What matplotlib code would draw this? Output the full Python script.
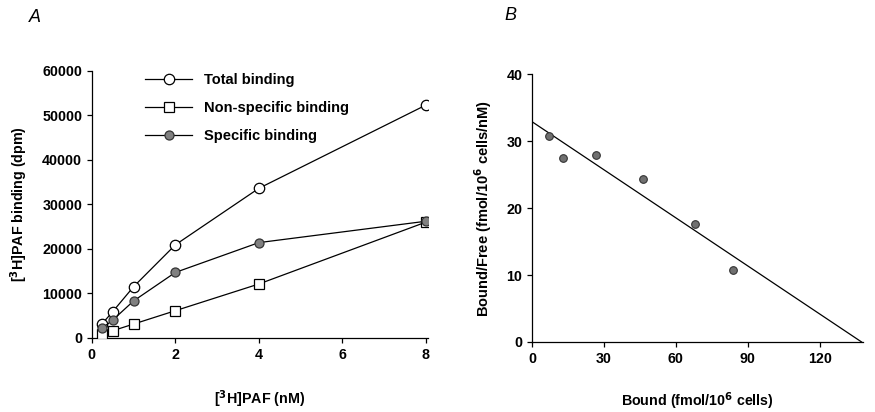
import matplotlib
matplotlib.use('Agg')
import matplotlib.pyplot as plt
import numpy as np

plt.rcParams['font.family'] = ['Liberation Sans', 'DejaVu Sans']
plt.rcParams['font.weight'] = 'bold'

# panel A data
conc = [0.25, 0.5, 1, 2, 4, 8]
total = [3200, 5900, 11500, 20900, 33600, 52300]
nonspecific = [900, 1600, 3100, 6100, 12100, 26000]
specific = [2200, 4000, 8300, 14700, 21400, 26200]

# panel B data (Scatchard)
bound = [7, 13, 26.5, 46.5, 68, 84]
bound_free = [30.8, 27.5, 27.9, 24.4, 17.6, 10.8]
fit_x = [0, 137.5]
fit_y = [32.9, 0]

fig = plt.figure(figsize=(8.75, 4.12), dpi=100)

axA = fig.add_axes([0.105, 0.18, 0.384, 0.648])
axA.plot(conc, total, '-o', color='black', lw=0.9, ms=7.5, mfc='white', mec='black', mew=0.9,
         label='Total binding', zorder=3)
axA.plot(conc, nonspecific, '-s', color='black', lw=0.9, ms=7.5, mfc='white', mec='black', mew=0.9,
         label='Non-specific binding', zorder=3)
axA.plot(conc, specific, '-o', color='black', lw=0.9, ms=6.5, mfc='#808080', mec='#333333', mew=0.9,
         label='Specific binding', zorder=3)
axA.set_xlim(0, 8.05)
axA.set_ylim(0, 60000)
axA.set_xticks([0, 2, 4, 6, 8])
axA.set_yticks(np.arange(0, 60001, 10000))
axA.set_xlabel('[$^3$H]PAF (nM)', fontsize=10.3, fontweight='bold', labelpad=19)
axA.set_ylabel('[$^3$H]PAF binding (dpm)', fontsize=10.3, fontweight='bold', labelpad=9)
axA.legend(loc='upper left', bbox_to_anchor=(0.12, 1.04), frameon=False, fontsize=10.5,
           handlelength=3.2, labelspacing=0.95, handletextpad=0.8)
axA.text(-0.17, 1.2, 'A', transform=axA.transAxes, fontsize=13, fontstyle='italic',
         fontweight='normal', va='center', ha='center')

axB = fig.add_axes([0.608, 0.17, 0.378, 0.65])
axB.plot(fit_x, fit_y, '-', color='black', lw=0.9)
axB.plot(bound, bound_free, 'o', color='#707070', mec='#333333', ms=5.5, mew=0.8)
axB.set_xlim(0, 138)
axB.set_ylim(0, 40)
axB.set_xticks([0, 30, 60, 90, 120])
axB.set_yticks([0, 10, 20, 30, 40])
axB.set_xlabel('Bound (fmol/10$^6$ cells)', fontsize=10.3, fontweight='bold', labelpad=18)
axB.set_ylabel('Bound/Free (fmol/10$^6$ cells/nM)', fontsize=10.5, fontweight='bold', labelpad=9)
axB.text(-0.066, 1.22, 'B', transform=axB.transAxes, fontsize=13, fontstyle='italic',
         fontweight='normal', va='center', ha='center')

for ax in (axA, axB):
    ax.spines['top'].set_visible(False)
    ax.spines['right'].set_visible(False)
    ax.spines['left'].set_linewidth(0.9)
    ax.spines['bottom'].set_linewidth(0.9)
    ax.tick_params(direction='out', length=3.5, width=0.9, labelsize=10.3)
    for lab in ax.get_xticklabels() + ax.get_yticklabels():
        lab.set_fontweight('bold')

fig.savefig('out.png', dpi=100)
